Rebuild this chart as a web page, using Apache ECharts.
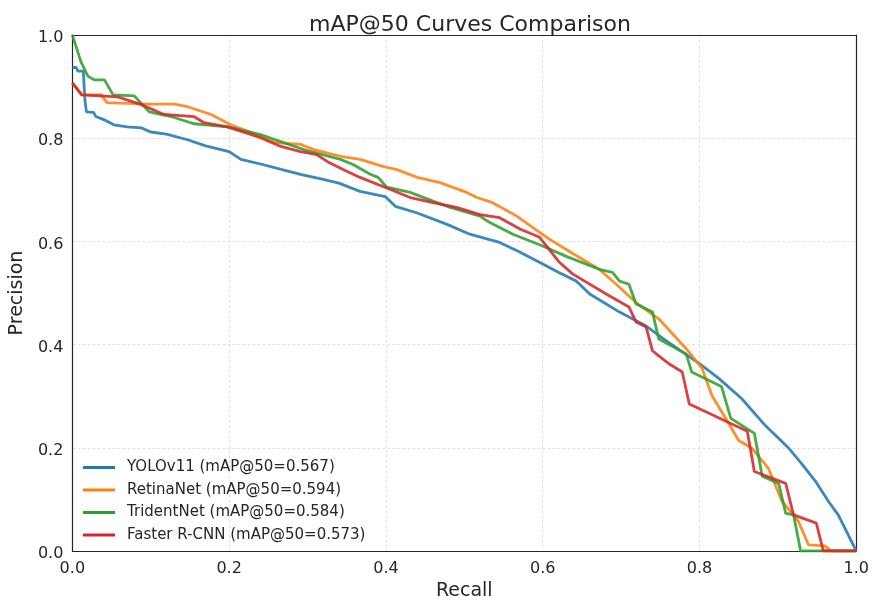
<!DOCTYPE html>
<html>
<head>
<meta charset="utf-8">
<script src="https://cdn.jsdelivr.net/npm/echarts@6/dist/echarts.min.js"></script>
<style>
html,body{margin:0;padding:0;background:#fff;}
#chart{width:872px;height:606px;}
</style>
</head>
<body>
<div id="chart"></div>
<script>
const titleText = 'mAP@50 Curves Comparison';
const xTicks = [0, 0.2, 0.4, 0.6, 0.8, 1.0];
const yTicks = [0, 0.2, 0.4, 0.6, 0.8, 1.0];
const seriesNames = ['YOLOv11 (mAP@50=0.567)', 'RetinaNet (mAP@50=0.594)', 'TridentNet (mAP@50=0.584)', 'Faster R-CNN (mAP@50=0.573)'];
const seriesColors = ['#1f77b4', '#ff7f0e', '#2ca02c', '#d62728'];

const yoloRecall = [0,0.005,0.007,0.014,0.016,0.018,0.027,0.03,0.04,0.053,0.07,0.088,0.1,0.12,0.147,0.17,0.2,0.215,0.24,0.27,0.291,0.32,0.34,0.367,0.399,0.412,0.44,0.478,0.507,0.545,0.57,0.6,0.62,0.643,0.66,0.698,0.732,0.755,0.778,0.8,0.825,0.854,0.884,0.914,0.93,0.948,0.965,0.977,1.0];
const yoloPrecision = [0.937,0.937,0.93,0.93,0.874,0.851,0.85,0.842,0.836,0.826,0.822,0.82,0.812,0.808,0.797,0.785,0.774,0.759,0.75,0.738,0.73,0.72,0.713,0.697,0.687,0.668,0.655,0.633,0.614,0.598,0.58,0.556,0.54,0.523,0.498,0.463,0.436,0.41,0.386,0.363,0.334,0.295,0.243,0.199,0.17,0.135,0.095,0.07,0];

const retinaRecall = [0,0.012,0.037,0.044,0.06,0.1,0.13,0.147,0.177,0.202,0.23,0.257,0.291,0.308,0.342,0.367,0.397,0.414,0.44,0.469,0.503,0.516,0.536,0.567,0.587,0.609,0.64,0.672,0.698,0.72,0.748,0.783,0.803,0.816,0.831,0.85,0.867,0.888,0.905,0.926,0.939,0.96,0.968,1.0];
const retinaPrecision = [0.907,0.884,0.884,0.869,0.868,0.866,0.866,0.861,0.846,0.826,0.81,0.792,0.788,0.778,0.765,0.759,0.745,0.739,0.724,0.714,0.695,0.685,0.675,0.649,0.627,0.604,0.575,0.546,0.511,0.48,0.45,0.392,0.355,0.301,0.263,0.214,0.199,0.16,0.097,0.058,0.012,0.01,0,0];

const tridentRecall = [0,0.011,0.02,0.028,0.041,0.052,0.079,0.098,0.126,0.155,0.198,0.24,0.295,0.342,0.358,0.38,0.39,0.401,0.431,0.46,0.482,0.52,0.532,0.562,0.6,0.63,0.672,0.689,0.698,0.71,0.719,0.74,0.748,0.783,0.79,0.828,0.84,0.87,0.88,0.901,0.91,0.92,0.929,1.0];
const tridentPrecision = [1.0,0.948,0.92,0.913,0.913,0.884,0.882,0.851,0.842,0.828,0.822,0.807,0.778,0.759,0.749,0.73,0.724,0.705,0.695,0.678,0.666,0.649,0.637,0.614,0.591,0.571,0.546,0.54,0.523,0.517,0.479,0.463,0.411,0.382,0.347,0.319,0.257,0.228,0.145,0.131,0.073,0.07,0,0];

const fasterRecall = [0,0.012,0.058,0.088,0.117,0.155,0.168,0.198,0.24,0.266,0.291,0.312,0.325,0.346,0.367,0.405,0.431,0.46,0.49,0.52,0.545,0.571,0.596,0.605,0.621,0.638,0.681,0.71,0.719,0.732,0.74,0.748,0.761,0.778,0.787,0.861,0.87,0.91,0.92,0.949,0.958,1.0];
const fasterPrecision = [0.907,0.884,0.88,0.865,0.846,0.842,0.83,0.822,0.801,0.784,0.774,0.768,0.755,0.739,0.724,0.701,0.685,0.675,0.666,0.652,0.646,0.624,0.608,0.591,0.56,0.537,0.498,0.473,0.444,0.434,0.388,0.378,0.363,0.347,0.285,0.232,0.154,0.131,0.07,0.054,0,0];

const recalls = [yoloRecall, retinaRecall, tridentRecall, fasterRecall];
const precisions = [yoloPrecision, retinaPrecision, tridentPrecision, fasterPrecision];

const FONT = 'DejaVu Sans';
const TEXT = '#262626';

const series = seriesNames.map((name, i) => ({
  name: name,
  type: 'line',
  data: recalls[i].map((r, k) => [r, precisions[i][k]]),
  showSymbol: false,
  symbol: 'none',
  clip: true,
  color: seriesColors[i],
  lineStyle: { width: 2.8, color: seriesColors[i], opacity: 0.88 },
  emphasis: { disabled: true }
}));

const chart = echarts.init(document.getElementById('chart'), null, { renderer: 'canvas' });
chart.setOption({
  animation: false,
  backgroundColor: '#ffffff',
  title: {
    text: titleText,
    left: 465,
    top: 9,
    textAlign: 'center',
    textStyle: { fontFamily: FONT, fontSize: 22, fontWeight: 'normal', color: TEXT }
  },
  grid: {
    left: 71, right: 14, top: 35, bottom: 53,
    show: false
  },
  legend: {
    orient: 'vertical',
    left: 83,
    top: 460,
    itemWidth: 32,
    itemHeight: 3,
    itemGap: 7.5,
    icon: 'rect',
    data: seriesNames,
    textStyle: { fontFamily: FONT, fontSize: 15, color: TEXT, lineHeight: 15, padding: [0, 0, 0, 7] },
    padding: 0
  },
  xAxis: [{
    type: 'value',
    min: xTicks[0], max: xTicks[xTicks.length - 1], interval: 0.2,
    name: 'Recall',
    nameLocation: 'middle',
    nameGap: 31,
    nameTextStyle: { fontFamily: FONT, fontSize: 19, color: TEXT },
    axisLine: { show: true, onZero: false, lineStyle: { color: '#262626', width: 1.2 } },
    axisTick: { show: false },
    axisLabel: { fontFamily: FONT, fontSize: 16, color: TEXT, margin: 10, formatter: v => v.toFixed(1) },
    splitLine: { show: true, showMinLine: false, showMaxLine: false, lineStyle: { color: '#dcdcdc', type: [3, 2], width: 0.8 } }
  }, {
    type: 'value', position: 'top',
    min: xTicks[0], max: xTicks[xTicks.length - 1], interval: 0.2,
    axisLine: { show: true, onZero: false, lineStyle: { color: '#262626', width: 1.2 } },
    axisTick: { show: false }, axisLabel: { show: false }, splitLine: { show: false }
  }],
  yAxis: [{
    type: 'value',
    min: yTicks[0], max: yTicks[yTicks.length - 1], interval: 0.2,
    name: 'Precision',
    nameLocation: 'middle',
    nameGap: 38,
    nameTextStyle: { fontFamily: FONT, fontSize: 19, color: TEXT },
    axisLine: { show: true, onZero: false, lineStyle: { color: '#262626', width: 1.2 } },
    axisTick: { show: false },
    axisLabel: {
      fontFamily: FONT, fontSize: 16, color: TEXT, margin: 9,
      formatter: v => '{t|' + v.toFixed(1) + '}',
      rich: { t: { fontFamily: FONT, fontSize: 16, color: TEXT, padding: [6, 0, 0, 0] } }
    },
    splitLine: { show: true, showMinLine: false, showMaxLine: false, lineStyle: { color: '#dcdcdc', type: [3, 2], width: 0.8 } }
  }, {
    type: 'value', position: 'right',
    min: yTicks[0], max: yTicks[yTicks.length - 1], interval: 0.2,
    axisLine: { show: true, onZero: false, lineStyle: { color: '#262626', width: 1.2 } },
    axisTick: { show: false }, axisLabel: { show: false }, splitLine: { show: false }
  }],
  series: series
});
</script>
</body>
</html>
